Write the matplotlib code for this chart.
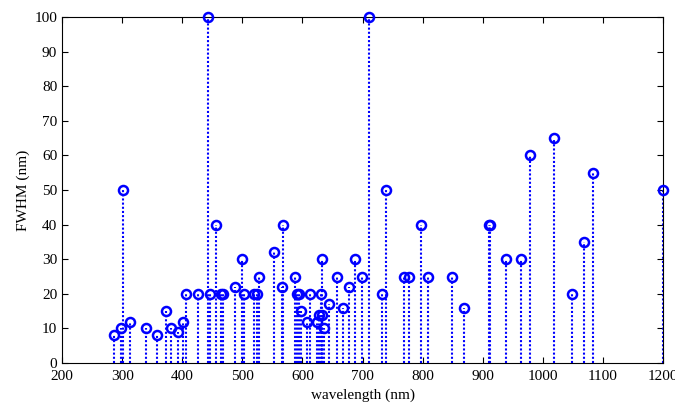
import numpy as np
import matplotlib
matplotlib.use('Agg')
from matplotlib import pyplot as plt

plt.rcParams['font.family'] = ['Liberation Serif', 'DejaVu Serif']

# wavelength (nm) and FWHM (nm)
wavelength = [287, 298, 302, 313, 339, 358, 373, 381, 393, 402, 407,
              427, 443, 447, 456, 464, 468, 487, 500, 503, 519, 525,
              528, 553, 566, 568, 588, 591, 595, 598, 608, 613, 624,
              627, 631, 633, 633, 636, 644, 658, 668, 678, 687, 699,
              711, 732, 739, 769, 778, 798, 809, 849, 869, 910, 912,
              938, 963, 979, 1019, 1049, 1069, 1084, 1200]
fwhm = [8, 10, 50, 12, 10, 8, 15, 10, 9, 12, 20,
        20, 100, 20, 40, 20, 20, 22, 30, 20, 20, 20,
        25, 32, 22, 40, 25, 20, 20, 15, 12, 20, 12,
        14, 20, 30, 14, 10, 17, 25, 16, 22, 30, 25,
        100, 20, 50, 25, 25, 40, 25, 25, 16, 40, 40,
        30, 30, 60, 65, 20, 35, 55, 50]

fig = plt.figure(figsize=(6.75, 4.07), dpi=100)
ax = fig.add_axes([0.0919, 0.108, 0.8904, 0.850])

ax.vlines(wavelength, 0, fwhm, colors='#0000ff', linestyles=(0, (1, 1)), linewidth=1.5, zorder=2)
ax.plot(wavelength, fwhm, 'o', markersize=6.5, markerfacecolor='none',
        markeredgecolor='#0000ff', markeredgewidth=1.8, zorder=3, clip_on=False)

ax.set_xlim(200, 1200)
ax.set_ylim(0, 100)
ax.set_xticks(np.arange(200, 1201, 100))
ax.set_yticks(np.arange(0, 101, 10))
ax.tick_params(direction='in', top=True, right=True, labelsize=11, length=4, width=0.8)
ax.tick_params(axis='x', pad=5)
ax.set_xlabel('wavelength (nm)', fontsize=11, labelpad=4)
ax.set_ylabel('FWHM (nm)', fontsize=11, labelpad=3)
for s in ax.spines.values():
    s.set_linewidth(0.8)

fig.savefig('out.png', dpi=100)
